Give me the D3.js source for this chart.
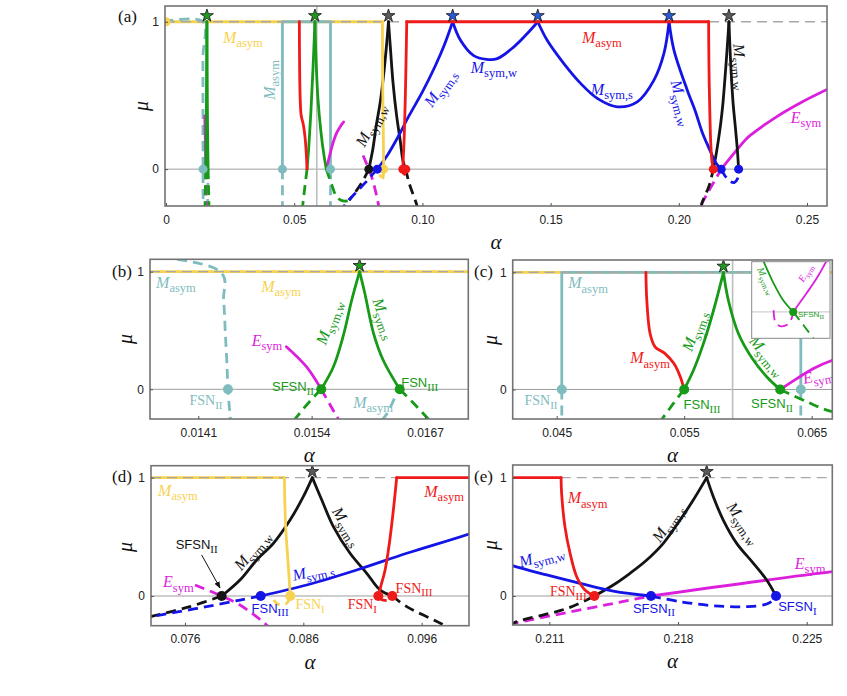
<!DOCTYPE html>
<html><head><meta charset="utf-8">
<script src="https://cdn.jsdelivr.net/npm/d3@7"></script>
<style>body{margin:0;background:#fff}svg{display:block}</style>
</head><body><svg id="c" width="847" height="696"></svg>
<script>
// ---------------- DATA (alpha, mu) ----------------
const ticksA=[0,0.05,0.10,0.15,0.20,0.25], tickLabA=['0','0.05','0.10','0.15','0.20','0.25'];
const ticksB=[0.0141,0.0154,0.0167], tickLabB=['0.0141','0.0154','0.0167'];
const ticksC=[0.045,0.055,0.065], tickLabC=['0.045','0.055','0.065'];
const ticksD=[0.076,0.086,0.096], tickLabD=['0.076','0.086','0.096'];
const ticksE=[0.211,0.218,0.225], tickLabE=['0.211','0.218','0.225'];
const yTicks=[0,1];
const insetMark=0.0588;

// yellow M_asym
const yAsymTop=[[-0.001,1],[0.0844,1]];
const yAsymDrop=[[0.0844,1],[0.0845,0.6],[0.0847,0.3],[0.0849,0]];
const yAsymDash=[[0.0849,0],[0.0847,-0.05],[0.0843,-0.08],[0.0838,-0.065],[0.0835,-0.035]];
const yDots=[[0,1],[0.0849,0]];
// teal M_asym
const tTopDash=[[-0.001,1],[0.01435,1],[0.01439,0.76],[0.01441,0.48],[0.01443,0.19],[0.01444,0],[0.01447,-0.27]];
const tRect=[[0.0454,0],[0.0454,1],[0.06415,1],[0.06415,0]];
const tDashL=[[0.0454,0],[0.0454,-0.27]];
const tDashR=[[0.06415,0],[0.06415,-0.27]];
const tDashB=[[0.0162,-0.27],[0.01627,-0.2],[0.01636,-0.06]];
const tDots=[[0.01444,0],[0.0454,0],[0.06415,0]];
// green
const gWb=[[0.01551,0],[0.01565,0.192],[0.01576,0.447],[0.01586,0.759],[0.01595,1]];
const gSb=[[0.01595,1],[0.01601,0.816],[0.01611,0.476],[0.01622,0.249],[0.01641,0]];
const gDb1=[[0.01551,0],[0.01537,-0.11],[0.01519,-0.27]];
const gDb2=[[0.01641,0],[0.01657,-0.119],[0.01676,-0.27]];
const gSc=[[0.0550,0],[0.05573,0.164],[0.05651,0.391],[0.0573,0.674],[0.05808,1]];
const gWc=[[0.05808,1],[0.05847,0.759],[0.05926,0.476],[0.06044,0.249],[0.06149,0.107],[0.06253,0]];
const gDc1=[[0.0550,0],[0.05416,-0.119],[0.05315,-0.27]];
const gDc2=[[0.06253,0],[0.06462,-0.105],[0.06663,-0.19],[0.0690,-0.215],[0.0722,-0.212]];
const gDots=[[0.01551,0],[0.01641,0],[0.0550,0],[0.06253,0]];
const gStars=[[0.01595,1],[0.05808,1]];
// red
const rC=[[0.0520,1],[0.05207,0.76],[0.05233,0.476],[0.05273,0.362],[0.0535,0.306],[0.0542,0.221],[0.0547,0.107],[0.0550,0]];
const rRise=[[0.09234,0],[0.09254,0.079],[0.09291,0.22],[0.09327,0.445],[0.09361,0.727],[0.09389,1]];
const rTop=[[0.09389,1],[0.21164,1]];
const rFall=[[0.21164,1],[0.21167,0.868],[0.21185,0.586],[0.21213,0.361],[0.21249,0.163],[0.21294,0.051],[0.21345,0]];
const rDip=[[0.09234,0],[0.0926,-0.03],[0.0931,-0.035],[0.09352,0]];
const rDots=[[0.09234,0],[0.09352,0],[0.21345,0]];
// black
const kWd=[[0.0791,0],[0.08065,0.135],[0.08206,0.304],[0.08347,0.445],[0.08488,0.642],[0.086,0.839],[0.08676,1]];
const kSd=[[0.08676,1],[0.08756,0.811],[0.08854,0.586],[0.08995,0.361],[0.09136,0.192],[0.09248,0.051],[0.09352,0]];
const kDd1=[[0.0791,0],[0.07642,-0.09],[0.07304,-0.175],[0.0715,-0.21]];
const kDd2=[[0.09352,0],[0.09474,-0.09],[0.0977,-0.237],[0.0982,-0.27]];
const kDe=[[0.2088,-0.26],[0.20904,-0.23],[0.21158,-0.124],[0.21231,-0.085],[0.21345,0]];
const kSe=[[0.21345,0],[0.21448,0.093],[0.21539,0.192],[0.2163,0.304],[0.2172,0.445],[0.21811,0.642],[0.21883,0.811],[0.21956,1]];
const kWe=[[0.21956,1],[0.21992,0.839],[0.22046,0.642],[0.22119,0.445],[0.2221,0.276],[0.22282,0.135],[0.22333,0]];
const kDots=[[0.0791,0]];
const kStars=[[0.08676,1],[0.21956,1]];
// blue
const bS1=[[0.0824,0],[0.08628,0.093],[0.09051,0.22],[0.09474,0.361],[0.1,0.524],[0.105,0.70],[0.1085,0.84],[0.1118,1]];
const bW1=[[0.1118,1],[0.1148,0.876],[0.12,0.77],[0.125,0.745],[0.1292,0.75],[0.1357,0.83],[0.1409,0.92],[0.145,1]];
const bS2=[[0.145,1],[0.1486,0.876],[0.1551,0.718],[0.1617,0.582],[0.1682,0.48],[0.176,0.423],[0.1838,0.457],[0.1903,0.604],[0.1942,0.785],[0.1962,1]];
const bW2=[[0.1962,1],[0.1981,0.808],[0.2033,0.536],[0.2065,0.39],[0.20904,0.254],[0.21086,0.178],[0.21267,0.107],[0.21448,0.042],[0.21653,0]];
const bDd=[[0.0824,0],[0.08065,-0.034],[0.07783,-0.09],[0.07501,-0.141],[0.07313,-0.175],[0.0700,-0.235],[0.0690,-0.27]];
const bDe=[[0.21653,0],[0.21811,-0.048],[0.21992,-0.082],[0.22174,-0.09],[0.22282,-0.068],[0.22328,-0.02],[0.22333,0]];
const bDots=[[0.0824,0],[0.21653,0],[0.22333,0]];
const bStars=[[0.1118,1],[0.145,1],[0.1962,1]];
// magenta E_sym
const mB=[[0.01511,0.362],[0.01534,0.192],[0.01551,0]];
const mBd=[[0.01551,0],[0.01569,-0.233],[0.01572,-0.27]];
const mC=[[0.06253,0],[0.06384,0.093],[0.06514,0.178],[0.06663,0.249],[0.0680,0.29],[0.0693,0.32]];
const mDd=[[0.07685,0.093],[0.0791,0],[0.08065,-0.076],[0.0829,-0.245],[0.0831,-0.27]];
const mEd=[[0.2088,-0.24],[0.20904,-0.231],[0.21653,0]];
const mE=[[0.21653,0],[0.22639,0.206],[0.2281,0.232],[0.2372,0.345],[0.2477,0.452],[0.2578,0.54]];
// inset (c)
const inGreenU=[[0.0621,0.064],[0.06225,0.0336],[0.06237,0.014],[0.0625,0]];
const inGreenD=[[0.0625,0],[0.06263,-0.0154],[0.06278,-0.034]];
const inMagU=[[0.0625,0],[0.06267,0.0219],[0.0628,0.0395],[0.06295,0.064]];
const inMagD=[[0.06225,0.002],[0.06227,-0.0115],[0.06233,-0.0166],[0.06244,-0.0142],[0.06248,-0.0075],[0.0625,0]];
const inDot=[[0.0625,0]];

// annotations (alpha, mu, text)
const labelsA=[
 {a:0.0300,m:0.890,t:'M',s:'asym',c:'yellow'},
 {a:0.0406,m:0.605,t:'M',s:'asym',c:'teal',r:-90},
 {a:0.0800,m:0.300,t:'M',s:'sym,w',c:'black',r:-62},
 {a:0.1069,m:0.551,t:'M',s:'sym,s',c:'blue',r:-55},
 {a:0.1279,m:0.686,t:'M',s:'sym,w',c:'blue'},
 {a:0.1700,m:0.890,t:'M',s:'asym',c:'red'},
 {a:0.1739,m:0.537,t:'M',s:'sym,s',c:'blue'},
 {a:0.2009,m:0.449,t:'M',s:'sym,w',c:'blue',r:75},
 {a:0.2239,m:0.693,t:'M',s:'sym,w',c:'black',r:85},
 {a:0.2496,m:0.347,t:'E',s:'sym',c:'magenta'}];
const labelsB=[
 {a:0.013844,m:0.904,t:'M',s:'asym',c:'teal'},
 {a:0.015049,m:0.870,t:'M',s:'asym',c:'yellow'},
 {a:0.015600,m:0.570,t:'M',s:'sym,w',c:'green',r:-70},
 {a:0.016230,m:0.600,t:'M',s:'sym,s',c:'green',r:70},
 {a:0.014888,m:0.411,t:'E',s:'sym',c:'magenta'},
 {a:0.015186,m:0.02,t:'SFSN',s:'II',c:'green',f:'sans'},
 {a:0.016640,m:0.054,t:'FSN',s:'III',c:'green',f:'sans'},
 {a:0.014188,m:-0.099,t:'FSN',s:'II',c:'teal',f:'serif'},
 {a:0.016104,m:-0.117,t:'M',s:'asym',c:'teal'}];
const labelsC=[
 {a:0.04746,m:0.904,t:'M',s:'asym',c:'teal'},
 {a:0.05232,m:0.266,t:'M',s:'asym',c:'red'},
 {a:0.05580,m:0.500,t:'M',s:'sym,s',c:'green',r:-70},
 {a:0.06150,m:0.285,t:'M',s:'sym,w',c:'green',r:50},
 {a:0.06550,m:0.113,t:'E',s:'sym',c:'magenta',r:-12},
 {a:0.05640,m:-0.134,t:'FSN',s:'III',c:'green',f:'sans'},
 {a:0.06189,m:-0.125,t:'SFSN',s:'II',c:'green',f:'sans'},
 {a:0.04377,m:-0.099,t:'FSN',s:'II',c:'teal',f:'serif'}];
const labelsD=[
 {a:0.07541,m:0.888,t:'M',s:'asym',c:'yellow'},
 {a:0.08170,m:0.385,t:'M',s:'sym,w',c:'black',r:-50},
 {a:0.08967,m:0.586,t:'M',s:'sym,s',c:'black',r:58},
 {a:0.08684,m:0.205,t:'M',s:'sym,s',c:'blue',r:-12},
 {a:0.07699,m:0.431,t:'SFSN',s:'II',c:'black',f:'sans'},
 {a:0.07544,m:0.113,t:'E',s:'sym',c:'magenta'},
 {a:0.08319,m:-0.104,t:'FSN',s:'III',c:'blue',f:'sans'},
 {a:0.08657,m:-0.076,t:'FSN',s:'I',c:'yellow',f:'serif'},
 {a:0.09099,m:-0.076,t:'FSN',s:'I',c:'red',f:'serif'},
 {a:0.09535,m:0.065,t:'FSN',s:'III',c:'red',f:'serif'},
 {a:0.09790,m:0.877,t:'M',s:'asym',c:'red'}];
const arrowD=[[0.07741,0.347],[0.07896,0.068]];
const labelsE=[
 {a:0.21308,m:0.826,t:'M',s:'asym',c:'red'},
 {a:0.21747,m:0.615,t:'M',s:'sym,s',c:'black',r:-55},
 {a:0.22155,m:0.615,t:'M',s:'sym,w',c:'black',r:55},
 {a:0.21059,m:0.332,t:'M',s:'sym,w',c:'blue',r:-15},
 {a:0.22518,m:0.270,t:'E',s:'sym',c:'magenta'},
 {a:0.21203,m:0.036,t:'FSN',s:'III',c:'red',f:'serif'},
 {a:0.21669,m:-0.104,t:'SFSN',s:'II',c:'blue',f:'sans'},
 {a:0.22449,m:-0.090,t:'SFSN',s:'I',c:'blue',f:'sans'}];
const labelsInset=[
 {a:0.06215,m:0.0363,t:'M',s:'sym,w',c:'green',r:65,k:0.62},
 {a:0.06266,m:0.0457,t:'E',s:'sym',c:'magenta',r:-60,k:0.62},
 {a:0.06256,m:-0.0025,t:'SFSN',s:'II',c:'green',f:'sans',k:0.62,anchor:'start'}];

// ---------------- STYLE ----------------
const COL={yellow:'#f7d24f',teal:'#7fbcbe',green:'#179a17',red:'#ef1a1a',blue:'#1414e6',magenta:'#dc1fdc',black:'#141414'};
const SERIF="'Liberation Serif','Times New Roman',serif";
const SANS="'Liberation Sans',Arial,Helvetica,sans-serif";
const LW=2.8, DASH='10,6';

const layers=[
 {p:yAsymTop,c:'yellow',lin:1},
 {p:tTopDash,c:'teal',d:1},{p:tRect,c:'teal',lin:1},{p:tDashL,c:'teal',d:1},{p:tDashR,c:'teal',d:1},{p:tDashB,c:'teal',d:1},
 {ref:1},
 {p:mB,c:'magenta'},{p:mBd,c:'magenta',d:1},{p:mC,c:'magenta'},{p:mDd,c:'magenta',d:1},{p:mEd,c:'magenta',d:1},{p:mE,c:'magenta'},
 {p:kWd,c:'black'},{p:kSd,c:'black'},{p:kDd1,c:'black',d:1},{p:kDd2,c:'black',d:1},{p:kDe,c:'black',d:1},{p:kSe,c:'black'},{p:kWe,c:'black'},
 {p:gWb,c:'green'},{p:gSb,c:'green'},{p:gDb1,c:'green',d:1},{p:gDb2,c:'green',d:1},{p:gSc,c:'green'},{p:gWc,c:'green'},{p:gDc1,c:'green',d:1},{p:gDc2,c:'green',d:1},
 {p:bS1,c:'blue'},{p:bW1,c:'blue'},{p:bS2,c:'blue'},{p:bW2,c:'blue'},{p:bDd,c:'blue',d:1},{p:bDe,c:'blue',d:1},
 {p:yAsymDrop,c:'yellow'},{p:yAsymDash,c:'yellow',d:1},
 {p:rC,c:'red'},{p:rRise,c:'red'},{p:rTop,c:'red',lin:1},{p:rFall,c:'red'},{p:rDip,c:'red',d:1}
];
const dotSets=[[tDots,'teal'],[yDots,'yellow'],[kDots,'black'],[gDots,'green','a'],[bDots,'blue'],[rDots,'red']];
const starSets=[[gStars,'#1f9a1f'],[bStars,'#2a5bd7'],[kStars,'#5a5a5a']];

const panels=[
 {id:'a',px:[165,827],py:[6,206],xd:[-0.0004,0.2578],yd:[-0.25,1.107],ticks:ticksA,tl:tickLabA,labels:labelsA,name:'(a)',np:[118,22],mu:[141,106],mark:1,r:4.5},
 {id:'b',px:[150,468.3],py:[259.3,419],xd:[0.013546,0.017197],yd:[-0.2525,1.105],ticks:ticksB,tl:tickLabB,labels:labelsB,name:'(b)',np:[112,277],mu:[125,339],r:5},
 {id:'c',px:[512.7,832.3],py:[260,419],xd:[0.04155,0.06662],yd:[-0.252,1.105],ticks:ticksC,tl:tickLabC,labels:labelsC,name:'(c)',np:[474,277],mu:[490,340],mark:1,inset:1,r:5},
 {id:'d',px:[151,469],py:[465.7,625.7],xd:[0.07313,0.1000],yd:[-0.251,1.101],ticks:ticksD,tl:tickLabD,labels:labelsD,name:'(d)',np:[112,482],mu:[125,547],arrow:1,r:5},
 {id:'e',px:[512.7,832.3],py:[465,625],xd:[0.20901,0.22639],yd:[-0.245,1.107],ticks:ticksE,tl:tickLabE,labels:labelsE,name:'(e)',np:[474,482],mu:[490,545],r:5}
];

const svg=d3.select('#c');
const defs=svg.append('defs');
defs.append('marker').attr('id','arr').attr('viewBox','0 0 10 10').attr('refX',9).attr('refY',5)
 .attr('markerWidth',7).attr('markerHeight',7).attr('orient','auto')
 .append('path').attr('d','M0,1 L10,5 L0,9 Z').attr('fill','#111');

function drawLabel(g,x,y,L){
 const k=L.k||1;
 const isM=(L.t==='M'||L.t==='E');
 const ms=isM?16*k:14*k;
 const ss=isM?12.5*k:11*k;
 const t=g.append('text').attr('transform',`translate(${x},${y}) rotate(${L.r||0})`)
  .attr('text-anchor',L.anchor||'middle').attr('fill',COL[L.c]);
 const mainFont=(L.f==='sans')?SANS:SERIF;
 const m=t.append('tspan').attr('font-family',mainFont).attr('font-size',L.f==='sans'?ms*0.93:ms).attr('dy',ms*0.3).text(L.t);
 if(isM) m.attr('font-style','italic');
 t.append('tspan').attr('font-family',SERIF).attr('font-size',ss).attr('dy',ms*0.28).text(L.s);
}

function drawCurves(cg,x,y,list,lw){
 list.forEach(L=>{
  const ln=d3.line().x(d=>x(d[0])).y(d=>y(d[1])).curve(L.lin?d3.curveLinear:d3.curveCatmullRom.alpha(0.5));
  const p=cg.append('path').attr('d',ln(L.p)).attr('fill','none').attr('stroke',COL[L.c])
   .attr('stroke-width',lw).attr('stroke-linejoin','round');
  if(L.d) p.attr('stroke-dasharray',DASH); else p.attr('stroke-linecap','round');
 });
}

panels.forEach(P=>{
 const x=d3.scaleLinear().domain(P.xd).range(P.px);
 const y=d3.scaleLinear().domain(P.yd).range([P.py[1],P.py[0]]);
 const W=P.px[1]-P.px[0], H=P.py[1]-P.py[0];
 defs.append('clipPath').attr('id','clip-'+P.id).append('rect')
  .attr('x',P.px[0]).attr('y',P.py[0]).attr('width',W).attr('height',H);
 const g=svg.append('g');
 const cg=g.append('g').attr('clip-path',`url(#clip-${P.id})`);
 cg.append('line').attr('x1',P.px[0]).attr('x2',P.px[1]).attr('y1',y(0)).attr('y2',y(0))
  .attr('stroke','#9d9d9d').attr('stroke-width',1);
 if(P.mark) cg.append('line').attr('x1',x(insetMark)).attr('x2',x(insetMark)).attr('y1',P.py[0]).attr('y2',P.py[1])
  .attr('stroke','#bdbdbd').attr('stroke-width',1.6);
 layers.forEach(L=>{
  if(L.ref){
   cg.append('line').attr('x1',P.px[0]).attr('x2',P.px[1]).attr('y1',y(1)).attr('y2',y(1))
    .attr('stroke','#a8a8a8').attr('stroke-width',1.4).attr('stroke-dasharray','10,6');
  } else drawCurves(cg,x,y,[L],LW);
 });
 dotSets.forEach(([pts,c,skip])=>{
  if(skip===P.id) return;
  cg.selectAll(null).data(pts).enter().append('circle').attr('cx',d=>x(d[0])).attr('cy',d=>y(d[1]))
   .attr('r',P.r).attr('fill',COL[c]);
 });
 starSets.forEach(([pts,c])=>{
  cg.selectAll(null).data(pts).enter().append('path').attr('d',d3.symbol(d3.symbolStar,52)())
   .attr('transform',d=>`translate(${x(d[0])},${y(d[1])-6})`).attr('fill',c).attr('stroke','#111').attr('stroke-width',0.8);
 });
 P.labels.forEach(L=>drawLabel(cg,x(L.a),y(L.m),L));
 if(P.arrow){
  cg.append('line').attr('x1',x(arrowD[0][0])).attr('y1',y(arrowD[0][1])).attr('x2',x(arrowD[1][0])).attr('y2',y(arrowD[1][1]))
   .attr('stroke','#111').attr('stroke-width',1).attr('marker-end','url(#arr)');
 }
 if(P.inset){
  const ix=d3.scaleLinear().domain([0.06197,0.06297]).range([751.7,830]);
  const iy=d3.scaleLinear().domain([-0.031,0.059]).range([338.3,261.7]);
  defs.append('clipPath').attr('id','clip-in').append('rect').attr('x',751.7).attr('y',261.7).attr('width',78.3).attr('height',76.6);
  const ig=g.append('g');
  ig.append('rect').attr('x',751.7).attr('y',261.7).attr('width',78.3).attr('height',76.6).attr('fill','#fff');
  const icg=ig.append('g').attr('clip-path','url(#clip-in)');
  icg.append('line').attr('x1',751.7).attr('x2',830).attr('y1',iy(0)).attr('y2',iy(0)).attr('stroke','#b5b5b5').attr('stroke-width',0.8);
  drawCurves(icg,ix,iy,[{p:inMagD,c:'magenta',d:1},{p:inMagU,c:'magenta'},{p:inGreenU,c:'green'},{p:inGreenD,c:'green',d:1}],1.8);
  icg.selectAll(null).data(inDot).enter().append('circle').attr('cx',d=>ix(d[0])).attr('cy',d=>iy(d[1])).attr('r',4).attr('fill',COL.green);
  labelsInset.forEach(L=>drawLabel(icg,ix(L.a),iy(L.m),L));
  ig.append('rect').attr('x',751.7).attr('y',261.7).attr('width',78.3).attr('height',76.6)
   .attr('fill','none').attr('stroke','#8a8a8a').attr('stroke-width',1);
 }
 g.append('rect').attr('x',P.px[0]).attr('y',P.py[0]).attr('width',W).attr('height',H)
  .attr('fill','none').attr('stroke','#737373').attr('stroke-width',1.6);
 const ax=g.append('g').attr('transform',`translate(0,${P.py[1]})`)
  .call(d3.axisBottom(x).tickValues(P.ticks).tickFormat((d,i)=>P.tl[i]).tickSizeInner(-3).tickSizeOuter(0).tickPadding(9));
 const ay=g.append('g').attr('transform',`translate(${P.px[0]},0)`)
  .call(d3.axisLeft(y).tickValues(yTicks).tickFormat(d3.format('d')).tickSizeInner(-3).tickSizeOuter(0).tickPadding(6));
 [ax,ay].forEach(a=>{
  a.select('.domain').remove();
  a.selectAll('line').attr('stroke','#555');
  a.selectAll('text').attr('font-family',SANS).attr('font-size',12).attr('fill','#222');
 });
 g.append('text').attr('x',(P.px[0]+P.px[1])/2).attr('y',P.py[1]+43).attr('text-anchor','middle')
  .attr('font-family',SERIF).attr('font-style','italic').attr('font-size',21).attr('fill','#111').text('α');
 g.append('text').attr('transform',`translate(${P.mu[0]},${P.mu[1]}) rotate(-90)`).attr('text-anchor','middle').attr('dy','0.35em')
  .attr('font-family',SERIF).attr('font-style','italic').attr('font-size',20).attr('fill','#111').text('μ');
 g.append('text').attr('x',P.np[0]).attr('y',P.np[1]).attr('font-family',SERIF).attr('font-size',17).attr('fill','#111').text(P.name);
});
</script></body></html>
